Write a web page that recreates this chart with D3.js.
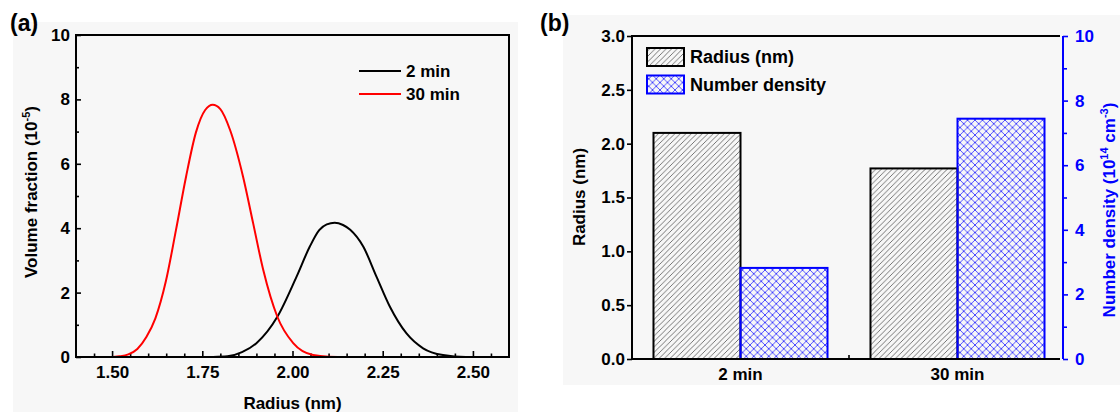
<!DOCTYPE html>
<html><head><meta charset="utf-8">
<script src="https://cdn.jsdelivr.net/npm/d3@7"></script>
<style>
body{margin:0;background:#fff;}
svg{display:block;font-family:"Liberation Sans",Arial,sans-serif;font-weight:bold;}
</style></head>
<body>
<svg id="c" width="1120" height="412"></svg>
<script>
// ---------- data: panel (a) ----------
const radius2min = [1.78, 1.82, 1.86, 1.90, 1.958, 2.011, 2.048, 2.074, 2.095, 2.117, 2.14, 2.16, 2.196, 2.233, 2.27, 2.316, 2.362, 2.417, 2.48, 2.55];
const volume2min = [0.00, 0.02, 0.15, 0.43, 1.25, 2.49, 3.43, 3.94, 4.12, 4.17, 4.10, 3.95, 3.43, 2.49, 1.56, 0.73, 0.27, 0.06, 0.00, 0.00];
const radius30min = [1.40, 1.50, 1.52, 1.545, 1.57, 1.595, 1.62, 1.649, 1.677, 1.705, 1.732, 1.758, 1.779, 1.80, 1.827, 1.863, 1.891, 1.919, 1.958, 2.002, 2.057, 2.10, 2.16];
const volume30min = [0.00, 0.00, 0.02, 0.08, 0.25, 0.62, 1.20, 2.35, 3.94, 5.60, 6.96, 7.67, 7.83, 7.70, 7.05, 5.60, 4.15, 2.70, 1.25, 0.43, 0.06, 0.01, 0.00];
const xTicksA = [1.50, 1.75, 2.00, 2.25, 2.50];
const yTicksA = [0, 2, 4, 6, 8, 10];
const legendA = ["2 min", "30 min"];

// ---------- data: panel (b) ----------
const categories = ["2 min", "30 min"];
const radiusNm = [2.10, 1.77];
const numberDensity = [2.82, 7.44];
const yTicksLeftB = [0, 0.5, 1.0, 1.5, 2.0, 2.5, 3.0];
const yTicksRightB = [0, 2, 4, 6, 8, 10];
const legendB = ["Radius (nm)", "Number density"];

const svg = d3.select("#c");
const FS = 17;
const BLUE = "#0000ff";

// defs: patterns
const defs = svg.append("defs");
const ph = defs.append("pattern").attr("id","hatch").attr("patternUnits","userSpaceOnUse").attr("width",5.5).attr("height",5.5);
ph.append("path").attr("d","M-1,1 l2,-2 M0,5.5 l5.5,-5.5 M4.5,6.5 l2,-2").attr("stroke","#555").attr("stroke-width",0.8);
const pc = defs.append("pattern").attr("id","cross").attr("patternUnits","userSpaceOnUse").attr("width",7.5).attr("height",7.5);
pc.append("path").attr("d","M0,0 L7.5,7.5 M7.5,0 L0,7.5").attr("stroke","#3a3aff").attr("stroke-width",0.9).attr("fill","none");

// backgrounds
svg.append("rect").attr("x",13).attr("y",22).attr("width",505).attr("height",390).attr("fill","#f7f7f7");
svg.append("rect").attr("x",563).attr("y",15).attr("width",557).attr("height",370).attr("fill","#f7f7f7");

function styleAxis(g, color){
  g.attr("font-family",null).attr("font-size",null);
  g.selectAll("text").attr("font-size",FS).attr("fill",color||"#000");
  g.selectAll("line").attr("stroke",color||"#000").attr("stroke-width",1.6);
  g.select(".domain").remove();
}

// ================= Panel (a) =================
const xa = d3.scaleLinear().domain([1.4, 2.6]).range([76, 509]);
const ya = d3.scaleLinear().domain([0, 10]).range([357, 35]);

// minor ticks
const minorX = d3.range(1.45, 2.56, 0.05).filter(v => !xTicksA.some(t => Math.abs(t - v) < 1e-6));
svg.append("g").attr("transform","translate(0,357)")
  .call(d3.axisBottom(xa).tickValues(minorX).tickSizeInner(-3.5).tickSizeOuter(0).tickFormat(""))
  .call(g => styleAxis(g));
svg.append("g").attr("transform","translate(0,357)")
  .call(d3.axisBottom(xa).tickValues(xTicksA).tickSizeInner(-6).tickSizeOuter(0).tickPadding(9).tickFormat(d3.format(".2f")))
  .call(g => styleAxis(g));
svg.append("g").attr("transform","translate(76,0)")
  .call(d3.axisLeft(ya).tickValues([1,3,5,7,9]).tickSizeInner(-3).tickSizeOuter(0).tickFormat(""))
  .call(g => styleAxis(g));
svg.append("g").attr("transform","translate(76,0)")
  .call(d3.axisLeft(ya).tickValues(yTicksA).tickSizeInner(-5).tickSizeOuter(0).tickPadding(6))
  .call(g => styleAxis(g));

// curves
const lineA = d3.line().x(d => xa(d[0])).y(d => ya(d[1])).curve(d3.curveMonotoneX);
svg.append("path").datum(d3.zip(radius2min, volume2min)).attr("d", lineA)
  .attr("fill","none").attr("stroke","#000").attr("stroke-width",2);
svg.append("path").datum(d3.zip(radius30min, volume30min)).attr("d", lineA)
  .attr("fill","none").attr("stroke","#ff0000").attr("stroke-width",2);

// frame
svg.append("rect").attr("x",76).attr("y",35).attr("width",433).attr("height",322)
  .attr("fill","none").attr("stroke","#000").attr("stroke-width",2);

// legend a
const legColorsA = ["#000","#ff0000"];
legendA.forEach((t,i) => {
  const yy = 71 + i*23;
  svg.append("line").attr("x1",359).attr("x2",401).attr("y1",yy).attr("y2",yy)
    .attr("stroke",legColorsA[i]).attr("stroke-width",2);
  svg.append("text").attr("x",406).attr("y",yy+6).attr("font-size",FS).text(t);
});

// titles a
svg.append("text").attr("x",292.5).attr("y",409).attr("text-anchor","middle").attr("font-size",FS).text("Radius (nm)");
const yta = svg.append("text").attr("transform","translate(37,192) rotate(-90)").attr("text-anchor","middle").attr("font-size",FS);
yta.append("tspan").text("Volume fraction (10");
yta.append("tspan").attr("font-size",11).attr("dy",-7).text("-5");
yta.append("tspan").attr("dy",7).text(")");

svg.append("text").attr("x",10).attr("y",31).attr("font-size",23).text("(a)");

// ================= Panel (b) =================
const xb = d3.scaleBand().domain(categories).range([632, 1066]).paddingInner(0).paddingOuter(0);
const xs = d3.scaleBand().domain(["r","n"]).range([0, xb.bandwidth()]).paddingInner(0).paddingOuter(0.247);
const ybl = d3.scaleLinear().domain([0, 3]).range([359, 36]);
const ybr = d3.scaleLinear().domain([0, 10]).range([359, 36]);

// bars
const gb = svg.append("g");
categories.forEach((c,i) => {
  gb.append("rect").attr("x", xb(c) + xs("r")).attr("y", ybl(radiusNm[i]))
    .attr("width", xs.bandwidth()).attr("height", ybl(0) - ybl(radiusNm[i]))
    .attr("fill","url(#hatch)").attr("stroke","#000").attr("stroke-width",2);
});
categories.forEach((c,i) => {
  gb.append("rect").attr("x", xb(c) + xs("n")).attr("y", ybr(numberDensity[i]))
    .attr("width", xs.bandwidth()).attr("height", ybr(0) - ybr(numberDensity[i]))
    .attr("fill","url(#cross)").attr("stroke",BLUE).attr("stroke-width",2);
});

// left axis b
svg.append("g").attr("transform","translate(632,0)")
  .call(d3.axisLeft(ybl).tickValues(yTicksLeftB).tickSizeInner(5).tickSizeOuter(0).tickPadding(2).tickFormat(d3.format(".1f")))
  .call(g => styleAxis(g));
// right axis b
svg.append("g").attr("transform","translate(1063,0)")
  .call(d3.axisRight(ybr).tickValues([1,3,5,7,9]).tickSizeInner(4).tickSizeOuter(0).tickFormat(""))
  .call(g => styleAxis(g, BLUE));
svg.append("g").attr("transform","translate(1063,0)")
  .call(d3.axisRight(ybr).tickValues(yTicksRightB).tickSizeInner(5).tickSizeOuter(0).tickPadding(7))
  .call(g => styleAxis(g, BLUE));
// bottom axis b
svg.append("g").attr("transform","translate(0,359)")
  .call(d3.axisBottom(xb).tickSizeInner(0).tickSizeOuter(0).tickPadding(9).offset(xb.bandwidth()/2 - 0.5))
  .call(g => styleAxis(g));
svg.append("line").attr("x1", xb("30 min")).attr("x2", xb("30 min")).attr("y1",359).attr("y2",355)
  .attr("stroke","#000").attr("stroke-width",1.6);

// frame lines b
svg.append("path").attr("d","M1060,36 H632 V359 H1060").attr("fill","none").attr("stroke","#000").attr("stroke-width",2);
svg.append("line").attr("x1",1063).attr("x2",1063).attr("y1",36).attr("y2",359).attr("stroke",BLUE).attr("stroke-width",2);

// legend b
const legFill = ["url(#hatch)","url(#cross)"], legStroke = ["#000", BLUE];
legendB.forEach((t,i) => {
  const yy = 48 + i*27.5;
  svg.append("rect").attr("x",647).attr("y",yy).attr("width",37).attr("height",18)
    .attr("fill",legFill[i]).attr("stroke",legStroke[i]).attr("stroke-width",2);
  svg.append("text").attr("x",690).attr("y",yy+15).attr("font-size",18).text(t);
});

// titles b
svg.append("text").attr("transform","translate(585,197) rotate(-90)").attr("text-anchor","middle").attr("font-size",FS).text("Radius (nm)");
const ytr = svg.append("text").attr("transform","translate(1115,210) rotate(-90)").attr("text-anchor","middle").attr("font-size",FS).attr("fill",BLUE);
ytr.append("tspan").text("Number density (10");
ytr.append("tspan").attr("font-size",11).attr("dy",-7).text("14");
ytr.append("tspan").attr("dy",7).text(" cm");
ytr.append("tspan").attr("font-size",11).attr("dy",-7).text("-3");
ytr.append("tspan").attr("dy",7).text(")");

svg.append("text").attr("x",540).attr("y",31).attr("font-size",23).text("(b)");
</script>
</body></html>
